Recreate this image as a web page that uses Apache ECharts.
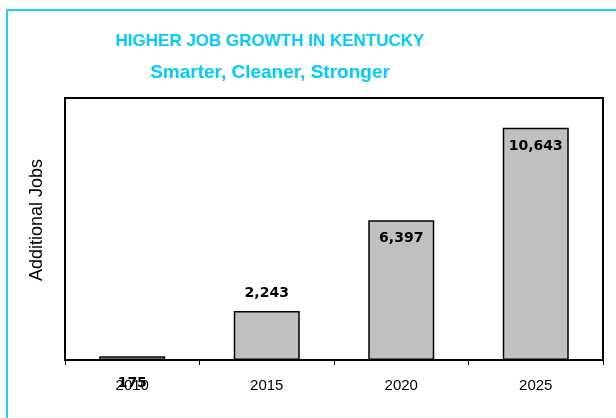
<!DOCTYPE html>
<html>
<head>
<meta charset="utf-8">
<script src="https://cdn.jsdelivr.net/npm/echarts@6/dist/echarts.min.js"></script>
<style>
  * { margin: 0; padding: 0; }
  body { background: #fff; }
  #chart { width: 616px; height: 418px; }
</style>
</head>
<body>
<div id="chart"></div>
<script>
// data
const years = ["2010", "2015", "2020", "2025"];
const jobs = [175, 2243, 6397, 10643];

// where each value label sits (Excel placed them by hand)
const labelPlace = [
  { position: "insideTop", offset: [0, 15] },
  { position: "top", distance: 11 },
  { position: "insideTop", offset: [0, 6] },
  { position: "insideTop", offset: [0, 7] },
];

const chart = echarts.init(document.getElementById("chart"));

const barData = jobs.map(function (v, i) {
  return { value: v, label: labelPlace[i] };
});

const option = {
  backgroundColor: "#fff",
  animation: false,
  title: {
    text: "HIGHER JOB GROWTH IN KENTUCKY",
    subtext: "Smarter, Cleaner, Stronger",
    left: 265,
    top: 28,
    textAlign: "center",
    itemGap: 13,
    textStyle: {
      color: "#00CCFF",
      fontFamily: "Liberation Sans",
      fontWeight: "bold",
      fontSize: 17,
    },
    subtextStyle: {
      color: "#00CCFF",
      fontFamily: "Liberation Sans",
      fontWeight: "bold",
      fontSize: 19,
    },
  },
  grid: {
    left: 65,
    right: 13,
    top: 98,
    bottom: 58,
    show: true,
    borderColor: "#000",
    borderWidth: 2,
  },
  xAxis: {
    type: "category",
    data: years,
    axisLine: { lineStyle: { color: "#000", width: 2 } },
    axisTick: { show: true, length: 5, lineStyle: { color: "#000", width: 1 } },
    axisLabel: {
      margin: 18,
      color: "#000",
      fontFamily: "Liberation Sans",
      fontSize: 15,
    },
  },
  yAxis: {
    type: "value",
    min: 0,
    max: 12000,
    name: "Additional Jobs",
    nameLocation: "middle",
    nameGap: 19,
    nameTextStyle: {
      color: "#000",
      fontFamily: "Liberation Sans",
      fontSize: 18,
      padding: [0, 0, 0, 18],
    },
    axisLine: { show: false },
    axisTick: { show: false },
    axisLabel: { show: false },
    splitLine: { show: false },
  },
  series: [
    {
      type: "bar",
      barWidth: 66,
      data: barData,
      itemStyle: {
        color: "#C0C0C0",
        borderColor: "#000",
        borderWidth: 1.5,
      },
      label: {
        show: true,
        color: "#000",
        fontFamily: "DejaVu Sans",
        fontWeight: "bold",
        fontSize: 14,
        formatter: function (p) {
          return p.value.toLocaleString("en-US");
        },
      },
    },
  ],
  graphic: [
    {
      // outer cyan frame, clipped on the right and bottom
      type: "rect",
      silent: true,
      shape: { x: 7, y: 10, width: 700, height: 500 },
      style: { fill: null, stroke: "#1FCFFF", lineWidth: 2 },
    },
  ],
};

chart.setOption(option);
</script>
</body>
</html>
